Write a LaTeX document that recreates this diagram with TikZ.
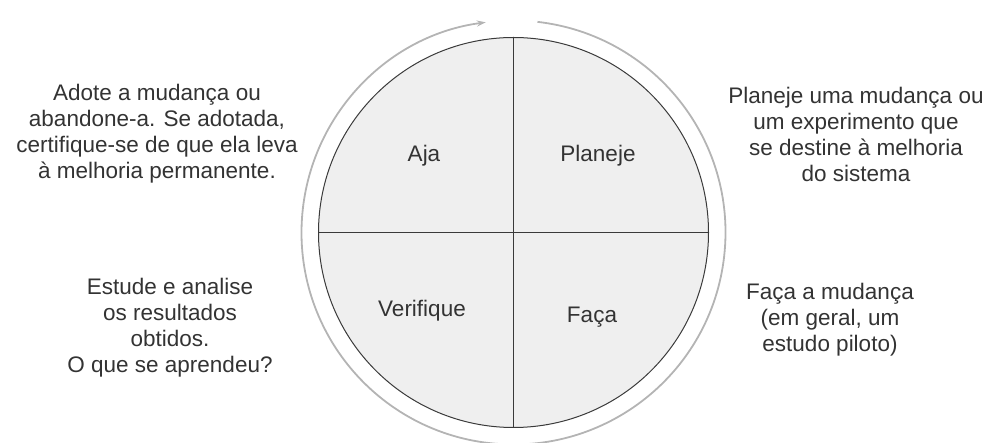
\documentclass[tikz,border=0pt]{standalone}
\usepackage{fontspec}
\setmainfont{Liberation Sans}
\usetikzlibrary{arrows.meta}
\definecolor{txt}{HTML}{333333}
\definecolor{wheelfill}{HTML}{EFEFEF}
\definecolor{wheeldraw}{HTML}{3A3A3A}
\definecolor{ringc}{HTML}{B4B4B4}
\begin{document}
\begin{tikzpicture}[x=1pt,y=-1pt,
  lbl/.style={font=\fontsize{22.5}{26}\selectfont, text=txt, align=center, inner sep=0pt},
  quad/.style={draw=wheeldraw, line width=1.4pt},
  ring/.style={draw=ringc, line width=1.8pt, -{Stealth[length=9pt,width=6pt]}}]
\useasboundingbox (0,0) rectangle (988,443);
\coordinate (c) at (513.5,232.5);
\node[circle, draw=wheeldraw, fill=wheelfill, line width=1pt, minimum size=390pt, inner sep=0pt] (wheel) at (c) {};
\draw[quad] (wheel.north) -- (wheel.south);
\draw[quad] (wheel.west) -- (wheel.east);
\draw[ring] ([shift={(-83.5:212)}]c) arc[start angle=-83.5, end angle=262.5, radius=212];
\node[lbl, anchor=base] (aja) at (424,162) {Aja};
\node[lbl, anchor=base] (planeje) at (598,162) {Planeje};
\node[lbl, anchor=base] (verifique) at (422,317) {Verifique};
\node[lbl, anchor=base] (faca) at (592,323) {Faça};
\node[lbl] (tl) at (157,134) {Adote a mudança ou\\abandone-a. Se adotada,\\certifique-se de que ela leva\\à melhoria permanente.};
\node[lbl] (tr) at (856,134) {Planeje uma mudança ou\\um experimento que\\se destine à melhoria\\do sistema};
\node[lbl] (bl) at (170,328) {Estude e analise\\os resultados\\obtidos.\\O que se aprendeu?};
\node[lbl] (br) at (830,320) {Faça a mudança\\(em geral, um\\estudo piloto)};
\end{tikzpicture}
\end{document}
